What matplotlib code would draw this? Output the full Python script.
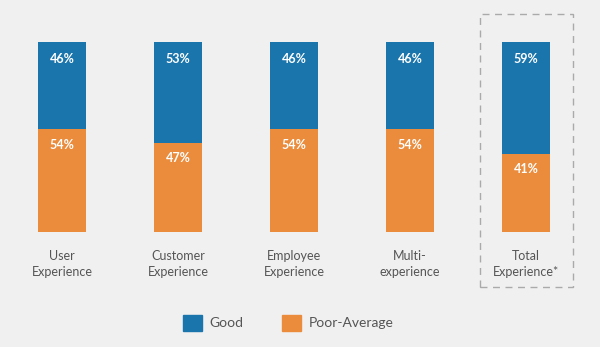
import matplotlib
matplotlib.use("Agg")
import matplotlib.pyplot as plt
from matplotlib.patches import Rectangle, Patch

categories = ["User\nExperience", "Customer\nExperience", "Employee\nExperience",
              "Multi-\nexperience", "Total\nExperience*"]
good = [46, 53, 46, 46, 59]
poor = [54, 47, 54, 54, 41]

blue = "#1a75ad"
orange = "#eb8c3d"
bg = "#f0f0f0"
txt = "#555555"

plt.rcParams["font.family"] = ["Lato", "DejaVu Sans"]

fig = plt.figure(figsize=(6, 3.47), dpi=100, facecolor=bg)
ax = fig.add_axes([0, 0, 1, 1])
ax.set_facecolor(bg)

x = list(range(len(categories)))
w = 0.414
ax.bar(x, poor, width=w, color=orange, edgecolor="none")
ax.bar(x, good, width=w, bottom=poor, color=blue, edgecolor="none")

for i in x:
    ax.annotate(f"{good[i]}%", (i, 100), xytext=(0, -12), textcoords="offset points",
                ha="center", va="center", color="white", fontsize=9, fontweight="bold")
    ax.annotate(f"{poor[i]}%", (i, poor[i]), xytext=(0, -11), textcoords="offset points",
                ha="center", va="center", color="white", fontsize=9, fontweight="bold")
    ax.annotate(categories[i], (i, 0), xytext=(0, -13), textcoords="offset points",
                ha="center", va="top", color=txt, fontsize=9, linespacing=1.35)

# dashed box around the total
ax.add_patch(Rectangle((3.603, -28.9), 0.802, 143.6, fill=False, edgecolor="#aaaaaa",
                       linestyle=(0, (5, 4)), linewidth=1))

ax.set_xlim(-0.5345, 4.638)
ax.set_ylim(-60.53, 122.1)
ax.axis("off")

handles = [Patch(color=blue, label="Good"), Patch(color=orange, label="Poor-Average")]
fig.legend(handles=handles, loc="center", bbox_to_anchor=(0.48, 0.07), ncol=2,
           frameon=False, fontsize=10, handlelength=1.4, handleheight=1.4,
           handletextpad=0.5, columnspacing=2.8, labelcolor=txt)

fig.savefig("out.png", dpi=100, facecolor=bg)
